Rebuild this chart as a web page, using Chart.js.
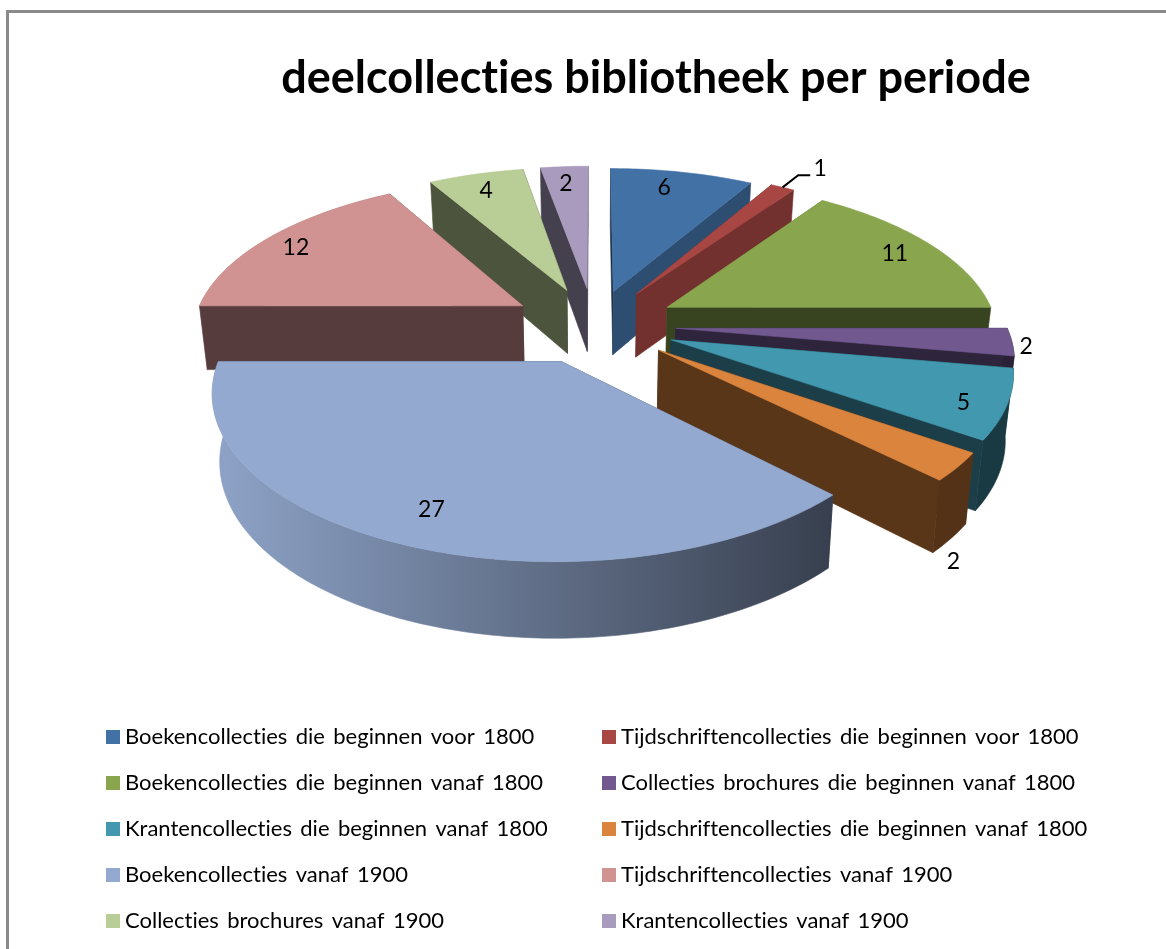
<!DOCTYPE html>
<html><head><meta charset="utf-8">
<style>html,body{margin:0;padding:0;background:#fff}canvas{display:block}</style>
<script src="https://cdn.jsdelivr.net/npm/chart.js@4/dist/chart.umd.min.js"></script>
</head><body>
<canvas id="c" width="1166" height="949"></canvas>
<script>
const titleText = 'deelcollecties bibliotheek per periode';
const categories = [
 'Boekencollecties die beginnen voor 1800','Tijdschriftencollecties die beginnen voor 1800',
 'Boekencollecties die beginnen vanaf 1800','Collecties brochures die beginnen vanaf 1800',
 'Krantencollecties die beginnen vanaf 1800','Tijdschriftencollecties die beginnen vanaf 1800',
 'Boekencollecties vanaf 1900','Tijdschriftencollecties vanaf 1900',
 'Collecties brochures vanaf 1900','Krantencollecties vanaf 1900'];
const values = [6,1,11,2,5,2,27,12,4,2];
const colors = ['#4271a6','#a84644','#89a54e','#71588f','#4198af','#db843d','#93a9cf','#d19392','#b9cd96','#a99bbd'];
const explode = [77,82,84,82,82,82,82,84,82,82];
const labelRadius = [.84,1.22,.84,1.03,.90,1.0,.80,.87,.85,.865];
const labelDrop = [0,0,0,0,0,1.33,0,0,0,0];
const labelNudge = [[-8,-2],[10,1],[5,0],[4,4],[-8,5],[5,0],[-5,8],[-4,2],[-2,1],[-1,2]];

// view model
const V = {cx:594, cy:325, k:.465, p:.0005, q:.02, H:66, R:330};
function proj(u,v,z){
  const w=(1-V.p*v)*(1+V.q*z);
  return [V.cx+u/w, V.cy+(V.k*v+V.H*z)/w];
}
function mul(hex,f){
  const n=parseInt(hex.slice(1),16);
  const c=[n>>16,(n>>8)&255,n&255].map(x=>Math.round(x*f));
  return `rgb(${c[0]},${c[1]},${c[2]})`;
}
function poly(ctx,pts,fill){
  ctx.beginPath();
  pts.forEach((p,i)=>i?ctx.lineTo(p[0],p[1]):ctx.moveTo(p[0],p[1]));
  ctx.closePath();
  ctx.fillStyle=fill; ctx.fill();
  ctx.strokeStyle=fill; ctx.lineWidth=.6; ctx.stroke();
}
const pie3d = {
  id:'pie3d',
  beforeDraw(chart){
    const ctx=chart.ctx;
    ctx.letterSpacing='0.01px';
    ctx.save();
    ctx.fillStyle='#8a8a8a';
    ctx.fillRect(6,10,1160,3);
    ctx.fillRect(6,10,3,939);
    ctx.restore();
  },
  beforeDatasetsDraw(chart){
    const ctx=chart.ctx, meta=chart.getDatasetMeta(0);
    const items=meta.data.map((arc,i)=>{
      const a0=arc.startAngle,a1=arc.endAngle,mid=(a0+a1)/2,d=arc.options.offset;
      const S=V.R/arc.outerRadius;
      return {i,arc,a0,a1,mid,S,r:arc.outerRadius,u0:Math.cos(mid)*d,v0:Math.sin(mid)*d};
    });
    const order=items.slice().sort((a,b)=>a.v0-b.v0);
    ctx.save();
    for(const it of order){
      const col=colors[it.i];
      const P=(a,z)=>proj(it.u0+Math.cos(a)*it.r*it.S,it.v0+Math.sin(a)*it.r*it.S,z);
      const A=z=>proj(it.u0,it.v0,z);
      const n=Math.max(6,Math.ceil((it.a1-it.a0)*60));
      const rimTop=[];
      for(let j=0;j<=n;j++) rimTop.push(it.a0+(it.a1-it.a0)*j/n);
      const wallShade=a=>{
        let deg=((a+Math.PI/2)*180/Math.PI+720)%360;
        return (deg>15&&deg<60)?.68:.41;
      };
      const faces=[
        {d:Math.sin(it.a0)*.5,pts:[A(0),P(it.a0,0),P(it.a0,1),A(1)],fill:mul(col,wallShade(it.a0))},
        {d:Math.sin(it.a1)*.5,pts:[A(0),P(it.a1,0),P(it.a1,1),A(1)],fill:mul(col,wallShade(it.a1))}
      ];
      if(Math.sin(it.a0)>0||Math.sin(it.a1)>0){
        const g=ctx.createLinearGradient(225,0,830,0);
        g.addColorStop(0,mul(col,.95));g.addColorStop(1,mul(col,.38));
        faces.push({d:Math.sin(it.mid),pts:rimTop.map(a=>P(a,0)).concat(rimTop.slice().reverse().map(a=>P(a,1))),fill:g});
      }
      faces.sort((a,b)=>a.d-b.d).forEach(f=>poly(ctx,f.pts,f.fill));
      poly(ctx,[A(0)].concat(rimTop.map(a=>P(a,0))),col);
    }
    // value labels
    ctx.fillStyle='#000'; ctx.textAlign='center'; ctx.textBaseline='middle';
    ctx.font='23px Lato';
    for(const it of items){
      const rho=labelRadius[it.i]*V.R;
      const q=proj(it.u0+Math.cos(it.mid)*rho,it.v0+Math.sin(it.mid)*rho,labelDrop[it.i]);
      const p=[q[0]+labelNudge[it.i][0],q[1]+labelNudge[it.i][1]];
      ctx.fillStyle='#000';
      ctx.fillText(String(values[it.i]),p[0],p[1]);
      if(values[it.i]===1){
        const s=proj(it.u0+Math.cos(it.mid)*V.R*1.0,it.v0+Math.sin(it.mid)*V.R*1.0,0);
        ctx.strokeStyle='#000';ctx.lineWidth=2;
        ctx.beginPath();ctx.moveTo(s[0],s[1]);ctx.lineTo(p[0]-22,p[1]+7);ctx.lineTo(p[0]-10,p[1]+7);ctx.stroke();
      }
    }
    // legend
    ctx.textAlign='left'; ctx.font='22px Lato'; ctx.wordSpacing='2.7px';
    categories.forEach((t,i)=>{
      const col=i%2, row=(i-col)/2;
      const y=737+row*46;
      const sx=col?602:106, tx=col?621:125;
      ctx.fillStyle=colors[i];
      ctx.fillRect(sx,y-7,14,14);
      ctx.fillStyle='#000';
      ctx.fillText(t,tx,y);
    });
    ctx.wordSpacing='0px';
    ctx.restore();
    return false;
  }
};
new Chart(document.getElementById('c'),{
  type:'pie',
  data:{labels:categories,datasets:[{data:values,backgroundColor:colors,offset:explode,borderWidth:0}]},
  plugins:[pie3d],
  options:{
    responsive:false,animation:false,
    layout:{padding:{left:146}},
    plugins:{
      legend:{display:false},tooltip:{enabled:false},
      title:{display:true,text:titleText,color:'#000',font:{family:'Lato',size:45,weight:'bold'},padding:{top:51,bottom:10}}
    }
  }
});
</script>
</body></html>
